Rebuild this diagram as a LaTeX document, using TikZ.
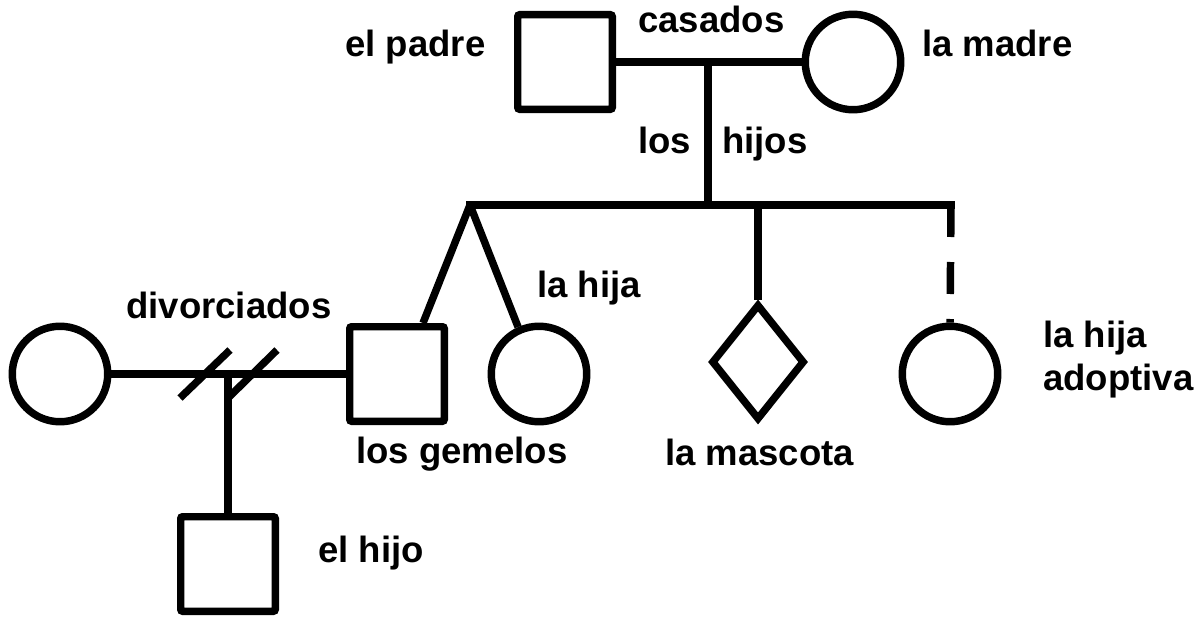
\documentclass[tikz,border=0pt]{standalone}
\usepackage{fontspec}
\setmainfont{Liberation Sans}
\usetikzlibrary{shapes.geometric}
\begin{document}
\begin{tikzpicture}[x=0.75pt,y=-0.75pt,
  ln/.style={line width=5.6pt},
  sq/.style={draw,line width=5.6pt,rectangle,rounded corners=1.5pt,minimum size=70.9pt,inner sep=0pt},
  ci/.style={draw,line width=5.6pt,circle,minimum size=71.6pt,inner sep=0pt},
  dm/.style={draw,line width=5.6pt,diamond,minimum width=70pt,minimum height=87pt,inner sep=0pt},
  lbl/.style={font=\fontsize{27.4}{32.25}\selectfont\bfseries,inner sep=0pt,anchor=base west}]
\useasboundingbox (0,0) rectangle (1198,617);
% people
\node[sq] (father) at (565,62) {};
\node[ci] (mother) at (853,62) {};
\node[ci] (ex) at (60,374) {};
\node[sq] (twin) at (397,374) {};
\node[ci] (daughter) at (539,374) {};
\node[dm] (pet) at (758,362) {};
\node[ci] (adopt) at (950,374) {};
\node[sq] (son) at (228,564) {};
% junction points
\coordinate (mj) at (708,62);
\coordinate (mjd) at (708,205);
\coordinate (sibL) at (470,205);
\coordinate (sibR) at (951,205);
\coordinate (petTop) at (758,205);
\coordinate (dj) at (228,374);
\coordinate (s1a) at (180,398);
\coordinate (s1b) at (230,350);
\coordinate (s2a) at (228,398);
\coordinate (s2b) at (277,350);
% connectors
\draw[ln] (father.east) -- (mother.west);
\draw[ln] (mj) -- (mjd);
\draw[ln,line cap=rect] (sibL) -- (sibR);
\draw[ln] (sibL) -- (twin.63);
\draw[ln] (sibL) -- (daughter.114);
\draw[ln] (petTop) -- (pet.north);
\draw[ln,dash pattern=on 24pt off 18.75pt] (sibR) -- (adopt.north);
\draw[ln] (ex.east) -- (twin.west);
\draw[ln] (s1a) -- (s1b);
\draw[ln] (s2a) -- (s2b);
\draw[ln] (dj) -- (son.north);
% labels
\node[lbl] (lpadre) at (345,56) {el padre};
\node[lbl] (lmadre) at (922,56) {la madre};
\node[lbl] (lcasados) at (638,33) {casados};
\node[lbl] (llos) at (638,153) {los};
\node[lbl] (lhijos) at (722,153) {hijos};
\node[lbl] (ldiv) at (126,318) {divorciados};
\node[lbl] (lhija) at (537,297) {la hija};
\node[lbl] (lgem) at (356,463) {los gemelos};
\node[lbl] (lmasc) at (665,465) {la mascota};
\node[lbl] (ladopt) at (1043,347) {\begin{tabular}[t]{@{}l@{}}la hija\\adoptiva\end{tabular}};
\node[lbl] (lhijo) at (318,562) {el hijo};
\end{tikzpicture}
\end{document}
